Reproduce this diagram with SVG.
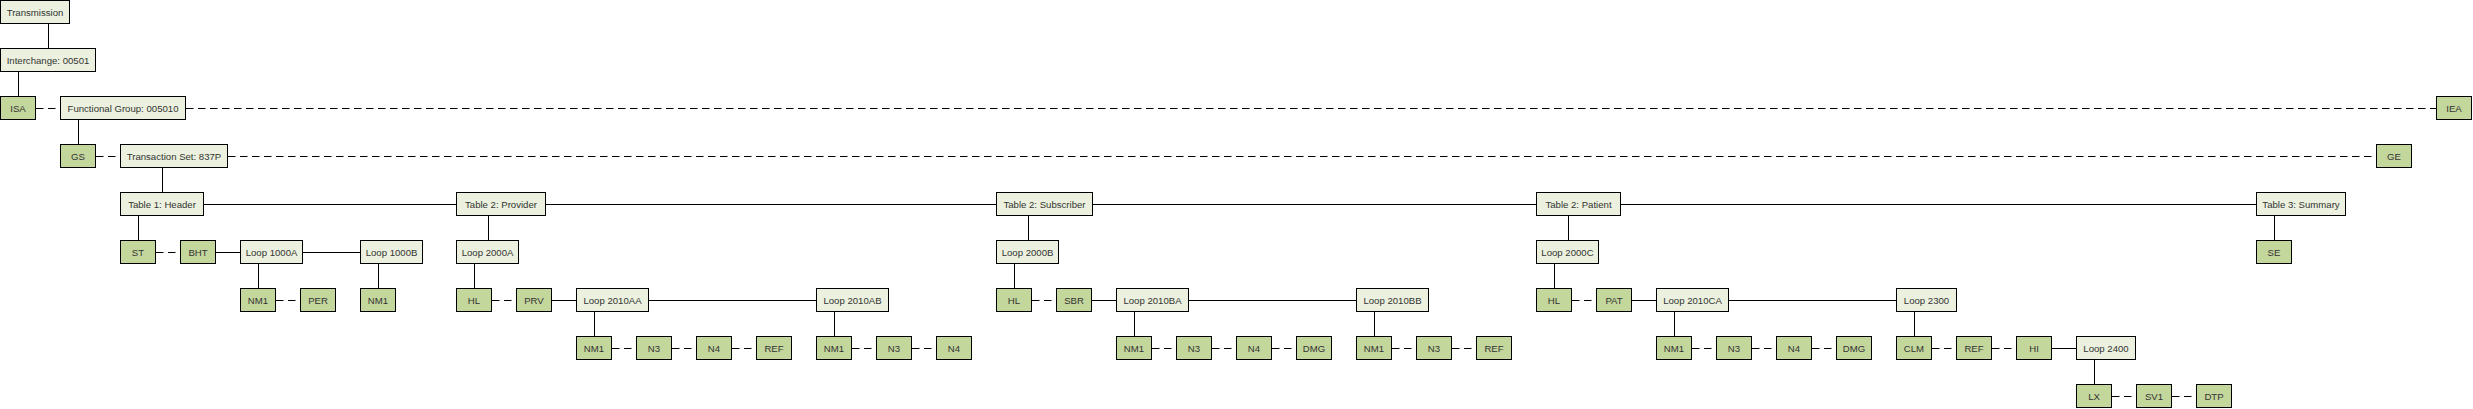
<svg xmlns="http://www.w3.org/2000/svg" width="2473" height="409" viewBox="0 0 2473 409">
<style>
.s{fill:#EBF1DE;stroke:#000;stroke-width:1}
.d{fill:#C3D69B;stroke:#000;stroke-width:1}
text{font-family:"Liberation Sans",Arial,sans-serif;font-size:9.6px;fill:#333;text-anchor:middle}
.c line{stroke:#000;stroke-width:1}
.c .k{stroke-dasharray:7.5 4.5}
</style>
<rect width="2473" height="409" fill="#fff"/>
<g id="connectors" class="c">
<line x1="48.5" y1="24" x2="48.5" y2="48"/>
<line x1="18.5" y1="72" x2="18.5" y2="96"/>
<line x1="78.5" y1="120" x2="78.5" y2="144"/>
<line x1="162.5" y1="168" x2="162.5" y2="192"/>
<line x1="138.5" y1="216" x2="138.5" y2="240"/>
<line x1="258.5" y1="264" x2="258.5" y2="288"/>
<line x1="378.5" y1="264" x2="378.5" y2="288"/>
<line x1="488.5" y1="216" x2="488.5" y2="240"/>
<line x1="474.5" y1="264" x2="474.5" y2="288"/>
<line x1="594.5" y1="312" x2="594.5" y2="336"/>
<line x1="834.5" y1="312" x2="834.5" y2="336"/>
<line x1="1028.5" y1="216" x2="1028.5" y2="240"/>
<line x1="1014.5" y1="264" x2="1014.5" y2="288"/>
<line x1="1134.5" y1="312" x2="1134.5" y2="336"/>
<line x1="1374.5" y1="312" x2="1374.5" y2="336"/>
<line x1="1568.5" y1="216" x2="1568.5" y2="240"/>
<line x1="1554.5" y1="264" x2="1554.5" y2="288"/>
<line x1="1674.5" y1="312" x2="1674.5" y2="336"/>
<line x1="1914.5" y1="312" x2="1914.5" y2="336"/>
<line x1="2094.5" y1="360" x2="2094.5" y2="384"/>
<line x1="2274.5" y1="216" x2="2274.5" y2="240"/>
<line x1="204" y1="204.5" x2="456" y2="204.5"/>
<line x1="546" y1="204.5" x2="996" y2="204.5"/>
<line x1="1093" y1="204.5" x2="1536" y2="204.5"/>
<line x1="1621" y1="204.5" x2="2256" y2="204.5"/>
<line x1="216" y1="252.5" x2="240" y2="252.5"/>
<line x1="303" y1="252.5" x2="360" y2="252.5"/>
<line x1="552" y1="300.5" x2="576" y2="300.5"/>
<line x1="649" y1="300.5" x2="816" y2="300.5"/>
<line x1="1092" y1="300.5" x2="1116" y2="300.5"/>
<line x1="1189" y1="300.5" x2="1356" y2="300.5"/>
<line x1="1632" y1="300.5" x2="1656" y2="300.5"/>
<line x1="1729" y1="300.5" x2="1896" y2="300.5"/>
<line x1="2052" y1="348.5" x2="2076" y2="348.5"/>
<line class="k" x1="36" y1="108.5" x2="60" y2="108.5"/>
<line class="k" x1="186" y1="108.5" x2="2436" y2="108.5"/>
<line class="k" x1="96" y1="156.5" x2="120" y2="156.5"/>
<line class="k" x1="228" y1="156.5" x2="2376" y2="156.5"/>
<line class="k" x1="156" y1="252.5" x2="180" y2="252.5"/>
<line class="k" x1="276" y1="300.5" x2="300" y2="300.5"/>
<line class="k" x1="492" y1="300.5" x2="516" y2="300.5"/>
<line class="k" x1="1032" y1="300.5" x2="1056" y2="300.5"/>
<line class="k" x1="1572" y1="300.5" x2="1596" y2="300.5"/>
<line class="k" x1="612" y1="348.5" x2="636" y2="348.5"/>
<line class="k" x1="672" y1="348.5" x2="696" y2="348.5"/>
<line class="k" x1="732" y1="348.5" x2="756" y2="348.5"/>
<line class="k" x1="852" y1="348.5" x2="876" y2="348.5"/>
<line class="k" x1="912" y1="348.5" x2="936" y2="348.5"/>
<line class="k" x1="1152" y1="348.5" x2="1176" y2="348.5"/>
<line class="k" x1="1212" y1="348.5" x2="1236" y2="348.5"/>
<line class="k" x1="1272" y1="348.5" x2="1296" y2="348.5"/>
<line class="k" x1="1392" y1="348.5" x2="1416" y2="348.5"/>
<line class="k" x1="1452" y1="348.5" x2="1476" y2="348.5"/>
<line class="k" x1="1692" y1="348.5" x2="1716" y2="348.5"/>
<line class="k" x1="1752" y1="348.5" x2="1776" y2="348.5"/>
<line class="k" x1="1812" y1="348.5" x2="1836" y2="348.5"/>
<line class="k" x1="1932" y1="348.5" x2="1956" y2="348.5"/>
<line class="k" x1="1992" y1="348.5" x2="2016" y2="348.5"/>
<line class="k" x1="2112" y1="396.5" x2="2136" y2="396.5"/>
<line class="k" x1="2172" y1="396.5" x2="2196" y2="396.5"/>
</g>
<g id="transmission"><rect class="s" x="0.5" y="0.5" width="69" height="23"/><text x="35" y="15.5">Transmission</text></g>
<g id="interchange"><rect class="s" x="0.5" y="48.5" width="95" height="23"/><text x="48" y="63.5">Interchange: 00501</text></g>
<g id="isa"><rect class="d" x="0.5" y="96.5" width="35" height="23"/><text x="18" y="111.5">ISA</text></g>
<g id="functional-group"><rect class="s" x="60.5" y="96.5" width="125" height="23"/><text x="123" y="111.5">Functional Group: 005010</text></g>
<g id="iea"><rect class="d" x="2436.5" y="96.5" width="35" height="23"/><text x="2454" y="111.5">IEA</text></g>
<g id="gs"><rect class="d" x="60.5" y="144.5" width="35" height="23"/><text x="78" y="159.5">GS</text></g>
<g id="transaction-set"><rect class="s" x="120.5" y="144.5" width="107" height="23"/><text x="174" y="159.5">Transaction Set: 837P</text></g>
<g id="ge"><rect class="d" x="2376.5" y="144.5" width="35" height="23"/><text x="2394" y="159.5">GE</text></g>
<g id="table1"><rect class="s" x="120.5" y="192.5" width="83" height="23"/><text x="162" y="207.5">Table 1: Header</text></g>
<g id="table2-provider"><rect class="s" x="456.5" y="192.5" width="89" height="23"/><text x="501" y="207.5">Table 2: Provider</text></g>
<g id="table2-subscriber"><rect class="s" x="996.5" y="192.5" width="96" height="23"/><text x="1044.5" y="207.5">Table 2: Subscriber</text></g>
<g id="table2-patient"><rect class="s" x="1536.5" y="192.5" width="84" height="23"/><text x="1578.5" y="207.5">Table 2: Patient</text></g>
<g id="table3"><rect class="s" x="2256.5" y="192.5" width="89" height="23"/><text x="2301" y="207.5">Table 3: Summary</text></g>
<g id="st"><rect class="d" x="120.5" y="240.5" width="35" height="23"/><text x="138" y="255.5">ST</text></g>
<g id="bht"><rect class="d" x="180.5" y="240.5" width="35" height="23"/><text x="198" y="255.5">BHT</text></g>
<g id="loop1000a"><rect class="s" x="240.5" y="240.5" width="62" height="23"/><text x="271.5" y="255.5">Loop 1000A</text></g>
<g id="loop1000b"><rect class="s" x="360.5" y="240.5" width="62" height="23"/><text x="391.5" y="255.5">Loop 1000B</text></g>
<g id="loop2000a"><rect class="s" x="456.5" y="240.5" width="62" height="23"/><text x="487.5" y="255.5">Loop 2000A</text></g>
<g id="loop2000b"><rect class="s" x="996.5" y="240.5" width="62" height="23"/><text x="1027.5" y="255.5">Loop 2000B</text></g>
<g id="loop2000c"><rect class="s" x="1536.5" y="240.5" width="62" height="23"/><text x="1567.5" y="255.5">Loop 2000C</text></g>
<g id="se"><rect class="d" x="2256.5" y="240.5" width="35" height="23"/><text x="2274" y="255.5">SE</text></g>
<g id="nm1-1000a"><rect class="d" x="240.5" y="288.5" width="35" height="23"/><text x="258" y="303.5">NM1</text></g>
<g id="per-1000a"><rect class="d" x="300.5" y="288.5" width="35" height="23"/><text x="318" y="303.5">PER</text></g>
<g id="nm1-1000b"><rect class="d" x="360.5" y="288.5" width="35" height="23"/><text x="378" y="303.5">NM1</text></g>
<g id="hl-2000a"><rect class="d" x="456.5" y="288.5" width="35" height="23"/><text x="474" y="303.5">HL</text></g>
<g id="prv-2000a"><rect class="d" x="516.5" y="288.5" width="35" height="23"/><text x="534" y="303.5">PRV</text></g>
<g id="loop2010aa"><rect class="s" x="576.5" y="288.5" width="72" height="23"/><text x="612.5" y="303.5">Loop 2010AA</text></g>
<g id="loop2010ab"><rect class="s" x="816.5" y="288.5" width="72" height="23"/><text x="852.5" y="303.5">Loop 2010AB</text></g>
<g id="hl-2000b"><rect class="d" x="996.5" y="288.5" width="35" height="23"/><text x="1014" y="303.5">HL</text></g>
<g id="sbr-2000b"><rect class="d" x="1056.5" y="288.5" width="35" height="23"/><text x="1074" y="303.5">SBR</text></g>
<g id="loop2010ba"><rect class="s" x="1116.5" y="288.5" width="72" height="23"/><text x="1152.5" y="303.5">Loop 2010BA</text></g>
<g id="loop2010bb"><rect class="s" x="1356.5" y="288.5" width="72" height="23"/><text x="1392.5" y="303.5">Loop 2010BB</text></g>
<g id="hl-2000c"><rect class="d" x="1536.5" y="288.5" width="35" height="23"/><text x="1554" y="303.5">HL</text></g>
<g id="pat-2000c"><rect class="d" x="1596.5" y="288.5" width="35" height="23"/><text x="1614" y="303.5">PAT</text></g>
<g id="loop2010ca"><rect class="s" x="1656.5" y="288.5" width="72" height="23"/><text x="1692.5" y="303.5">Loop 2010CA</text></g>
<g id="loop2300"><rect class="s" x="1896.5" y="288.5" width="60" height="23"/><text x="1926.5" y="303.5">Loop 2300</text></g>
<g id="nm1-2010aa"><rect class="d" x="576.5" y="336.5" width="35" height="23"/><text x="594" y="351.5">NM1</text></g>
<g id="n3-2010aa"><rect class="d" x="636.5" y="336.5" width="35" height="23"/><text x="654" y="351.5">N3</text></g>
<g id="n4-2010aa"><rect class="d" x="696.5" y="336.5" width="35" height="23"/><text x="714" y="351.5">N4</text></g>
<g id="ref-2010aa"><rect class="d" x="756.5" y="336.5" width="35" height="23"/><text x="774" y="351.5">REF</text></g>
<g id="nm1-2010ab"><rect class="d" x="816.5" y="336.5" width="35" height="23"/><text x="834" y="351.5">NM1</text></g>
<g id="n3-2010ab"><rect class="d" x="876.5" y="336.5" width="35" height="23"/><text x="894" y="351.5">N3</text></g>
<g id="n4-2010ab"><rect class="d" x="936.5" y="336.5" width="35" height="23"/><text x="954" y="351.5">N4</text></g>
<g id="nm1-2010ba"><rect class="d" x="1116.5" y="336.5" width="35" height="23"/><text x="1134" y="351.5">NM1</text></g>
<g id="n3-2010ba"><rect class="d" x="1176.5" y="336.5" width="35" height="23"/><text x="1194" y="351.5">N3</text></g>
<g id="n4-2010ba"><rect class="d" x="1236.5" y="336.5" width="35" height="23"/><text x="1254" y="351.5">N4</text></g>
<g id="dmg-2010ba"><rect class="d" x="1296.5" y="336.5" width="35" height="23"/><text x="1314" y="351.5">DMG</text></g>
<g id="nm1-2010bb"><rect class="d" x="1356.5" y="336.5" width="35" height="23"/><text x="1374" y="351.5">NM1</text></g>
<g id="n3-2010bb"><rect class="d" x="1416.5" y="336.5" width="35" height="23"/><text x="1434" y="351.5">N3</text></g>
<g id="ref-2010bb"><rect class="d" x="1476.5" y="336.5" width="35" height="23"/><text x="1494" y="351.5">REF</text></g>
<g id="nm1-2010ca"><rect class="d" x="1656.5" y="336.5" width="35" height="23"/><text x="1674" y="351.5">NM1</text></g>
<g id="n3-2010ca"><rect class="d" x="1716.5" y="336.5" width="35" height="23"/><text x="1734" y="351.5">N3</text></g>
<g id="n4-2010ca"><rect class="d" x="1776.5" y="336.5" width="35" height="23"/><text x="1794" y="351.5">N4</text></g>
<g id="dmg-2010ca"><rect class="d" x="1836.5" y="336.5" width="35" height="23"/><text x="1854" y="351.5">DMG</text></g>
<g id="clm-2300"><rect class="d" x="1896.5" y="336.5" width="35" height="23"/><text x="1914" y="351.5">CLM</text></g>
<g id="ref-2300"><rect class="d" x="1956.5" y="336.5" width="35" height="23"/><text x="1974" y="351.5">REF</text></g>
<g id="hi-2300"><rect class="d" x="2016.5" y="336.5" width="35" height="23"/><text x="2034" y="351.5">HI</text></g>
<g id="loop2400"><rect class="s" x="2076.5" y="336.5" width="59" height="23"/><text x="2106" y="351.5">Loop 2400</text></g>
<g id="lx-2400"><rect class="d" x="2076.5" y="384.5" width="35" height="23"/><text x="2094" y="399.5">LX</text></g>
<g id="sv1-2400"><rect class="d" x="2136.5" y="384.5" width="35" height="23"/><text x="2154" y="399.5">SV1</text></g>
<g id="dtp-2400"><rect class="d" x="2196.5" y="384.5" width="35" height="23"/><text x="2214" y="399.5">DTP</text></g>
</svg>
